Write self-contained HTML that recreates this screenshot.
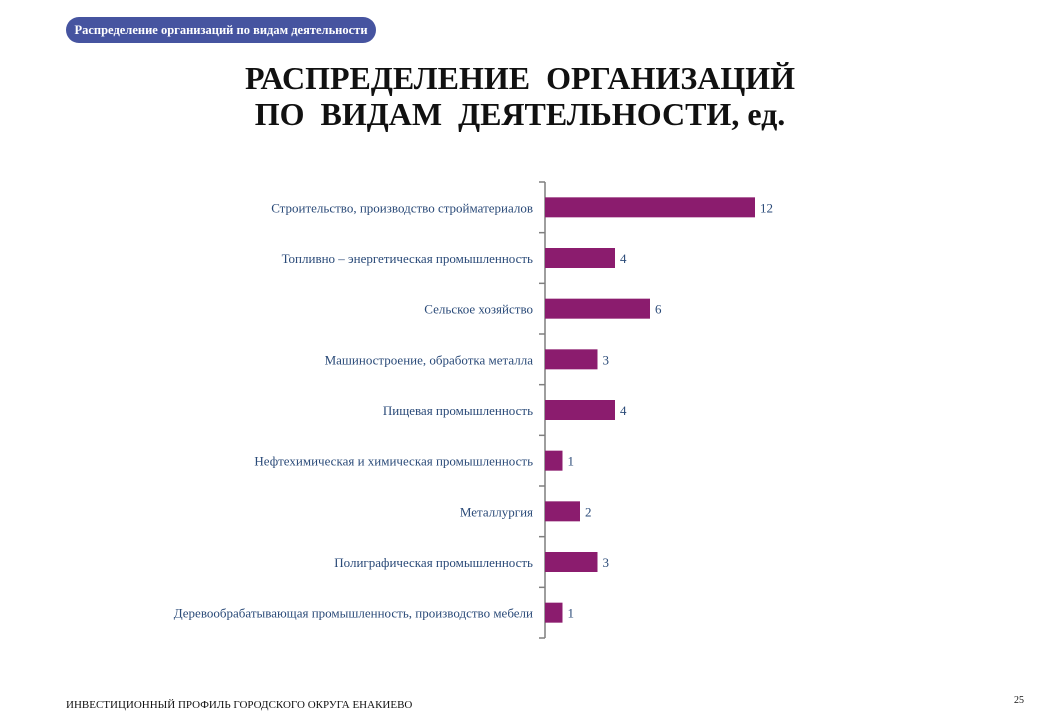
<!DOCTYPE html>
<html><head><meta charset="utf-8">
<style>
body{margin:0;width:1040px;height:720px;background:#fff;position:relative;overflow:hidden;font-family:"Liberation Serif",serif;}
.pill{position:absolute;left:66px;top:17px;width:310px;height:26px;border-radius:13px;background:#4654a0;color:#fff;font-size:12.5px;font-weight:bold;line-height:26px;text-align:center;}
.title{position:absolute;left:0;width:1040px;top:60px;text-align:center;font-size:32px;font-weight:bold;line-height:36px;color:#111;}
.footer{position:absolute;left:66px;top:699px;font-size:11px;color:#111;}
.page{position:absolute;left:1014px;top:695px;font-size:10px;color:#111;}
</style></head><body>
<div class="pill">Распределение организаций по видам деятельности</div>
<div class="title">РАСПРЕДЕЛЕНИЕ&nbsp; ОРГАНИЗАЦИЙ<br>ПО&nbsp; ВИДАМ&nbsp; ДЕЯТЕЛЬНОСТИ, ед.</div>
<svg id="chart" width="1040" height="720" style="position:absolute;left:0;top:0"></svg>
<div class="footer">ИНВЕСТИЦИОННЫЙ ПРОФИЛЬ ГОРОДСКОГО ОКРУГА ЕНАКИЕВО</div>
<div class="page">25</div>
<script>
const categories=["Строительство, производство стройматериалов","Топливно – энергетическая промышленность","Сельское хозяйство","Машиностроение, обработка металла","Пищевая промышленность","Нефтехимическая и химическая промышленность","Металлургия","Полиграфическая промышленность","Деревообрабатывающая промышленность, производство мебели"];
const values=[12,4,6,3,4,1,2,3,1];
const svg=document.getElementById('chart');
const NS='http://www.w3.org/2000/svg';
const x0=545, unit=17.5, yTop=182, yBottom=638;
const band=(yBottom-yTop)/categories.length;
const xs=v=>x0+v*unit;
const yc=i=>yTop+band*(i+0.5);
function mk(t,a){const e=document.createElementNS(NS,t);for(const k in a)e.setAttribute(k,a[k]);svg.appendChild(e);return e;}
const ax=mk('line',{x1:x0,y1:yTop,x2:x0,y2:yBottom,stroke:'#7f7f7f','stroke-width':1.5});


for(let i=0;i<=categories.length;i++){
 const t=mk('line',{x1:x0-6,x2:x0,y1:yTop+band*i,y2:yTop+band*i,stroke:'#7f7f7f','stroke-width':1.5});
 
 
}
categories.forEach((c,i)=>{
 const r=mk('rect',{x:x0,y:yc(i)-10,width:xs(values[i])-x0,height:20,fill:'#8b1c6e'});
 
 
 const l=mk('text',{x:x0-12,y:yc(i)+5,'text-anchor':'end','font-size':'13','font-family':'Liberation Serif, serif',fill:'#2a4a78'});
 l.textContent=c;
 
 
 const v=mk('text',{x:xs(values[i])+5,y:yc(i)+5,'font-size':'13','font-family':'Liberation Serif, serif',fill:'#2a4a78'});
 v.textContent=values[i];
 
 
});
</script>
</body></html>
